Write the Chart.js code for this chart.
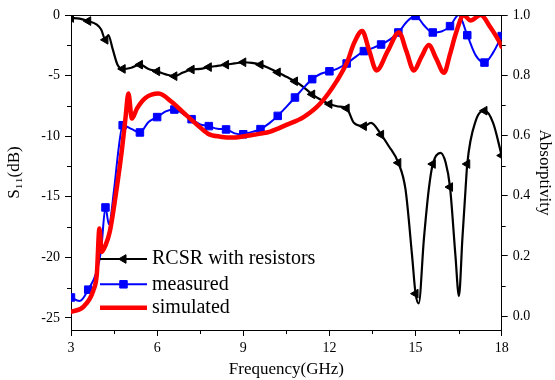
<!DOCTYPE html>
<html>
<head>
<meta charset="utf-8">
<script src="https://cdn.jsdelivr.net/npm/chart.js@4.4.1/dist/chart.umd.min.js"></script>
<style>
html, body { margin: 0; padding: 0; background: #fff; }
#wrap { width: 555px; height: 380px; }
</style>
</head>
<body>
<div id="wrap"><canvas id="chart" width="555" height="380"></canvas></div>
<script>
// RCSR with resistors (S11, dB, left axis)
const rcsrFreq = [3.0, 3.3, 3.6, 3.9, 4.05, 4.2, 4.3, 4.45, 4.62, 4.8, 5.1, 5.4, 5.7, 6.0, 6.3, 6.6, 6.9, 7.2, 7.5, 7.8,
  8.1, 8.4, 8.7, 9.0, 9.3, 9.6, 9.9, 10.2, 10.5, 10.8, 11.1, 11.4, 11.7, 12.0, 12.3, 12.6, 12.85, 13.2, 13.45, 13.8,
  14.07, 14.4, 14.65, 14.88, 15.0, 15.11, 15.29, 15.46, 15.6, 15.87, 16.05, 16.2, 16.39, 16.51, 16.63, 16.74, 16.8,
  17.1, 17.4, 17.7, 18.0];
const rcsrDb = [-0.25, -0.3, -0.5, -0.8, -1.2, -2.05, -1.65, -2.8, -4.1, -4.45, -4.35, -4.1, -4.45, -4.65, -4.9, -5.05,
  -4.75, -4.5, -4.45, -4.3, -4.2, -4.1, -4.0, -3.9, -3.95, -4.1, -4.4, -4.73, -5.1, -5.47, -5.95, -6.55, -7.0, -7.35,
  -7.55, -7.7, -8.9, -9.18, -8.9, -9.87, -10.83, -12.2, -14.4, -19.9, -23.0, -23.8, -18.5, -14.4, -12.3, -11.38,
  -12.2, -14.2, -19.9, -23.2, -18.5, -14.4, -12.3, -8.7, -7.9, -8.9, -11.6];

// measured absorptivity (right axis)
const measFreq = [3.0, 3.3, 3.6, 3.9, 4.05, 4.2, 4.32, 4.5, 4.65, 4.8, 5.1, 5.4, 5.7, 6.0, 6.3, 6.6, 6.9, 7.2, 7.5, 7.8,
  8.1, 8.4, 8.7, 9.0, 9.3, 9.6, 9.9, 10.2, 10.5, 10.8, 11.1, 11.4, 11.7, 12.0, 12.3, 12.6, 12.9, 13.2, 13.5, 13.8,
  14.1, 14.4, 14.72, 15.0, 15.3, 15.6, 15.9, 16.2, 16.5, 16.8, 17.1, 17.4, 17.7, 18.0];
const measAbs = [0.062, 0.05, 0.088, 0.15, 0.22, 0.361, 0.305, 0.42, 0.55, 0.634, 0.622, 0.61, 0.645, 0.661, 0.68,
  0.686, 0.672, 0.654, 0.637, 0.631, 0.622, 0.62, 0.607, 0.604, 0.612, 0.621, 0.64, 0.665, 0.695, 0.726, 0.758,
  0.787, 0.805, 0.813, 0.823, 0.839, 0.86, 0.88, 0.89, 0.902, 0.918, 0.942, 0.98, 0.997, 0.965, 0.942, 0.945, 0.963,
  1.0, 0.933, 0.865, 0.842, 0.875, 0.93];

// simulated absorptivity (right axis)
const simFreq = [3.0, 3.43, 3.78, 3.9, 3.99, 4.07, 4.2, 4.35, 4.6, 4.77, 4.9, 5.0, 5.12, 5.3, 5.6, 6.05, 6.5, 6.95,
  7.4, 7.77, 8.2, 8.66, 9.2, 9.6, 9.94, 10.5, 11.1, 11.68, 12.27, 12.62, 12.85, 13.14, 13.39, 13.64, 14.03, 14.42,
  14.68, 14.94, 15.2, 15.46, 15.72, 15.99, 16.2, 16.4, 16.68, 16.91, 17.27, 17.6, 17.95, 18.0];
const simAbs = [0.014, 0.031, 0.086, 0.14, 0.291, 0.213, 0.235, 0.28, 0.43, 0.55, 0.66, 0.739, 0.656, 0.69, 0.725,
  0.739, 0.712, 0.673, 0.635, 0.606, 0.596, 0.593, 0.6, 0.606, 0.613, 0.635, 0.661, 0.706, 0.783, 0.844, 0.905,
  0.947, 0.88, 0.816, 0.88, 0.942, 0.88, 0.816, 0.86, 0.9, 0.855, 0.808, 0.87, 0.938, 0.999, 0.982, 1.0, 0.96,
  0.905, 0.894];

// frequencies where symbols are drawn
const markerFreq = [3.0, 3.6, 4.2, 4.8, 5.4, 6.0, 6.6, 7.2, 7.8, 8.4, 9.0, 9.6, 10.2, 10.8, 11.4, 12.0, 12.6, 13.2,
  13.8, 14.4, 15.0, 15.6, 16.2, 16.8, 17.4, 18.0];

const xTicks = [3, 6, 9, 12, 15, 18];
const xMinor = [4.5, 7.5, 10.5, 13.5, 16.5];
const dbTicks = [-25, -20, -15, -10, -5, 0];
const dbMinor = [-22.5, -17.5, -12.5, -7.5, -2.5];
const absTicks = [0, 0.2, 0.4, 0.6, 0.8, 1.0];
const absMinor = [0.1, 0.3, 0.5, 0.7, 0.9];

const seriesLabels = ['RCSR with resistors', 'measured', 'simulated'];

Chart.defaults.font.family = "'Liberation Serif', 'Times New Roman', serif";
Chart.defaults.color = '#000';

function toPoints(xs, ys) {
  return xs.map((x, i) => ({x: x, y: ys[i]}));
}

function markerRadius(r) {
  return ctx => {
    const p = ctx.raw;
    if (!p) return 0;
    return markerFreq.some(f => Math.abs(f - p.x) < 1e-6) ? r : 0;
  };
}

const insideLegend = {
  id: 'insideLegend',
  afterDatasetsDraw(chart) {
    const {ctx, chartArea} = chart;
    const x0 = chartArea.left + 29;
    const x1 = chartArea.left + 76;
    const rows = [chartArea.bottom - 71, chartArea.bottom - 45.7, chartArea.bottom - 22.3];
    ctx.save();
    chart.data.datasets.forEach((ds, i) => {
      const y = rows[i];
      ctx.strokeStyle = ds.borderColor;
      ctx.lineWidth = ds.borderWidth;
      ctx.lineCap = 'butt';
      ctx.beginPath();
      ctx.moveTo(x0, y);
      ctx.lineTo(x1, y);
      ctx.stroke();
      if (ds.legendRadius) {
        ctx.fillStyle = ds.pointBackgroundColor;
        ctx.strokeStyle = ds.pointBorderColor;
        ctx.lineWidth = 1;
        Chart.helpers.drawPoint(ctx, {
          pointStyle: ds.pointStyle,
          radius: ds.legendRadius,
          rotation: ds.pointRotation || 0,
          borderWidth: 1
        }, (x0 + x1) / 2, y);
      }
      ctx.fillStyle = '#000';
      ctx.font = "20px 'Liberation Serif', 'Times New Roman', serif";
      ctx.textBaseline = 'middle';
      ctx.textAlign = 'left';
      ctx.fillText(ds.label, x1 + 5, y);
    });
    ctx.restore();
  }
};

const frame = {
  id: 'frame',
  afterDraw(chart) {
    const {ctx, chartArea: a, scales} = chart;
    ctx.save();
    ctx.strokeStyle = '#000';
    ctx.lineWidth = 1;
    ctx.beginPath();
    ctx.moveTo(a.left, a.top + 0.5);
    ctx.lineTo(a.right, a.top + 0.5);
    xMinor.forEach(v => {
      const px = Math.round(scales.x.getPixelForValue(v)) + 0.5;
      ctx.moveTo(px, a.bottom);
      ctx.lineTo(px, a.bottom + 4);
    });
    dbMinor.forEach(v => {
      const py = Math.round(scales.y.getPixelForValue(v)) + 0.5;
      ctx.moveTo(a.left, py);
      ctx.lineTo(a.left - 4, py);
    });
    absMinor.forEach(v => {
      const py = Math.round(scales.y2.getPixelForValue(v)) + 0.5;
      ctx.moveTo(a.right, py);
      ctx.lineTo(a.right + 4, py);
    });
    ctx.stroke();
    ctx.restore();
  }
};

const axisGrid = {drawOnChartArea: false, color: '#000', tickColor: '#000', tickLength: 6, tickWidth: 1};
const axisBorder = {color: '#000', width: 1};

const config = {
  type: 'line',
  data: {
    datasets: [
      {
        label: seriesLabels[0],
        data: toPoints(rcsrFreq, rcsrDb),
        yAxisID: 'y',
        borderColor: '#000000',
        borderWidth: 2.2,
        pointStyle: 'triangle',
        pointRotation: -90,
        pointRadius: markerRadius(5),
        legendRadius: 5,
        pointBackgroundColor: '#000000',
        pointBorderColor: '#000000',
        pointBorderWidth: 1,
        cubicInterpolationMode: 'monotone',
        order: 2
      },
      {
        label: seriesLabels[1],
        data: toPoints(measFreq, measAbs),
        yAxisID: 'y2',
        borderColor: '#0000ff',
        borderWidth: 2,
        pointStyle: 'rect',
        pointRadius: markerRadius(5.3),
        legendRadius: 5.3,
        pointBackgroundColor: '#0000ff',
        pointBorderColor: '#0000ff',
        pointBorderWidth: 1,
        cubicInterpolationMode: 'monotone',
        order: 1
      },
      {
        label: seriesLabels[2],
        data: toPoints(simFreq, simAbs),
        yAxisID: 'y2',
        borderColor: '#ff0000',
        borderWidth: 4.5,
        pointRadius: 0,
        borderJoinStyle: 'round',
        borderCapStyle: 'round',
        cubicInterpolationMode: 'monotone',
        order: 0
      }
    ]
  },
  options: {
    responsive: false,
    animation: false,
    events: [],
    layout: {padding: {top: 15, left: 0, right: 0, bottom: 0}},
    plugins: {
      legend: {display: false},
      tooltip: {enabled: false}
    },
    scales: {
      x: {
        type: 'linear',
        min: 3,
        max: 18,
        afterBuildTicks: s => { s.ticks = xTicks.map(v => ({value: v})); },
        afterFit: s => { s.height = 50; },
        grid: axisGrid,
        border: axisBorder,
        ticks: {font: {size: 14}, padding: 4, maxRotation: 0, callback: v => String(v)},
        title: {display: true, text: 'Frequency(GHz)', font: {size: 17}, padding: {top: 0, bottom: 0}}
      },
      y: {
        position: 'left',
        min: -26,
        max: 0,
        afterBuildTicks: s => { s.ticks = dbTicks.map(v => ({value: v})); },
        afterFit: s => { s.width = 71; },
        grid: axisGrid,
        border: axisBorder,
        ticks: {font: {size: 14}, padding: 5, callback: v => String(v)},
        title: {display: true, text: 'S\u2081\u2081(dB)', font: {size: 17}, padding: {top: 4, bottom: 0}}
      },
      y2: {
        position: 'right',
        min: -0.046,
        max: 1.0,
        afterBuildTicks: s => { s.ticks = absTicks.map(v => ({value: v})); },
        afterFit: s => { s.width = 53.3; },
        grid: axisGrid,
        border: axisBorder,
        ticks: {font: {size: 14}, padding: 5, callback: v => Number(v).toFixed(1)},
        title: {display: true, text: 'Absorptivity', font: {size: 17}, padding: {top: 0, bottom: 0}}
      }
    }
  },
  plugins: [insideLegend, frame]
};

const chart = new Chart(document.getElementById('chart').getContext('2d'), config);
</script>
</body>
</html>
